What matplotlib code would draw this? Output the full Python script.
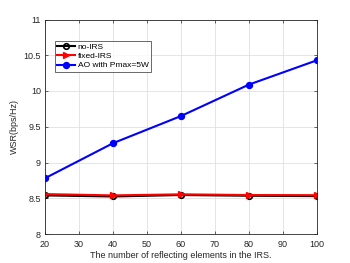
import matplotlib
matplotlib.use("Agg")
import matplotlib.pyplot as plt

N = [20, 40, 60, 80, 100]
no_irs = [8.54, 8.525, 8.545, 8.535, 8.53]
fixed_irs = [8.558, 8.54, 8.555, 8.545, 8.543]
ao = [8.78, 9.27, 9.65, 10.09, 10.43]

plt.rcParams['font.family'] = ['Liberation Sans', 'DejaVu Sans']
fig = plt.figure(figsize=(3.5, 2.63), dpi=100)
ax = fig.add_axes([45/350, 1-234/263, (317-45)/350, (234-19.5)/263])

ax.plot(N, no_irs, color='black', lw=1.5, marker='o', ms=4, mfc='none', mew=1.2, label='no-IRS')
ax.plot(N, fixed_irs, color='red', lw=1.5, marker='>', ms=5, label='fixed-IRS')
ax.plot(N, ao, color='blue', lw=1.5, marker='o', ms=4.3, label='AO with Pmax=5W')

ax.set_xlim(20, 100)
ax.set_ylim(8, 11)
ax.set_xticks([20, 30, 40, 50, 60, 70, 80, 90, 100])
ax.set_yticks([8, 8.5, 9, 9.5, 10, 10.5, 11])
ax.set_yticklabels(['8', '8.5', '9', '9.5', '10', '10.5', '11'])
ax.grid(True, color='#e0e0e0', lw=0.6)
ax.set_axisbelow(True)
ax.tick_params(direction='in', labelsize=6.5, colors='#262626', length=2.5, width=0.5, top=True, right=True,
               labeltop=False, labelright=False)
ax.tick_params(axis='x', pad=4)
ax.tick_params(axis='y', pad=3)
for s in ax.spines.values():
    s.set_color('#262626')
    s.set_linewidth(0.6)
ax.set_xlabel('The number of reflecting elements in the IRS.', fontsize=6.5, color='#262626', labelpad=2)
ax.set_ylabel('WSR(bps/Hz)', fontsize=6.5, color='#262626', labelpad=3)

leg = ax.legend(loc='upper left', bbox_to_anchor=(0.035, 0.9), fontsize=6, frameon=True, fancybox=False,
                edgecolor='#262626', borderpad=0.3, labelspacing=0.15, handlelength=2.2, handletextpad=0.3,
                borderaxespad=0)
leg.get_frame().set_linewidth(0.6)

fig.savefig('out.png', dpi=100)
